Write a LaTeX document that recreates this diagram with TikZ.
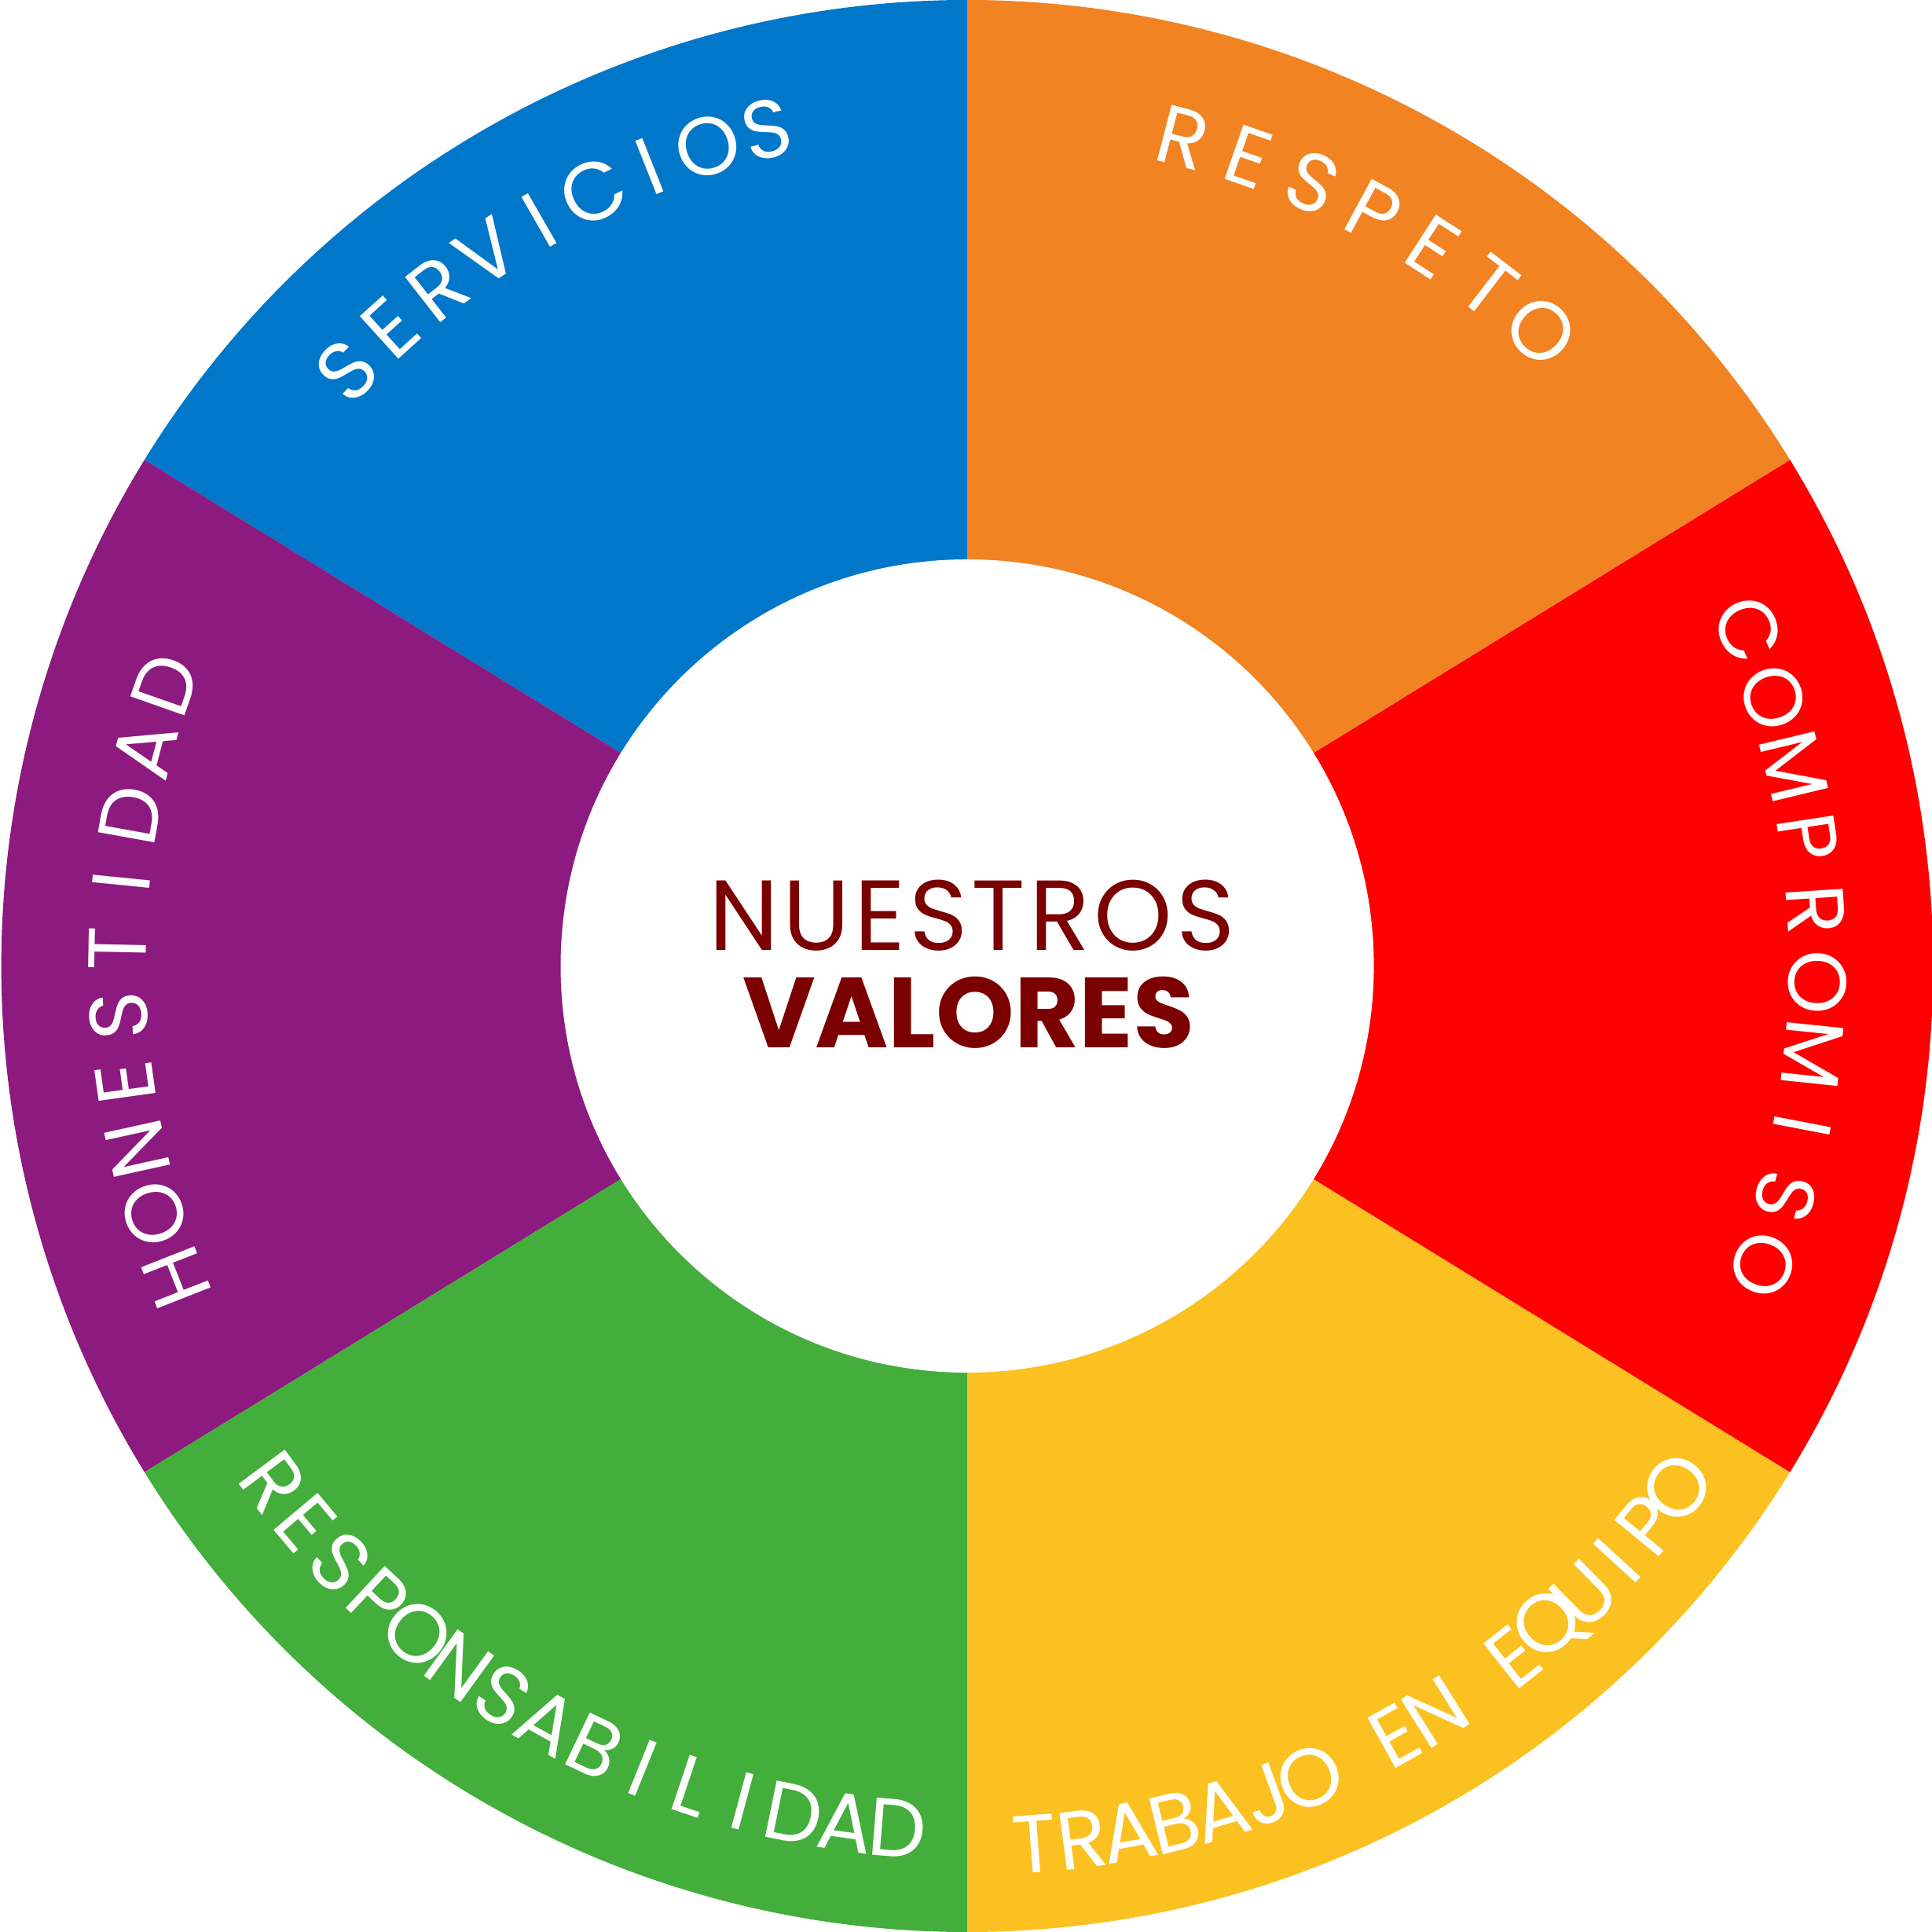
\documentclass[tikz,border=0pt]{standalone}
\usepackage{fontspec}
\setmainfont{Poppins}
\definecolor{cblue}{HTML}{0077C8}
\definecolor{corange}{HTML}{F28322}
\definecolor{cred}{HTML}{FF0000}
\definecolor{cyellow}{HTML}{FBC120}
\definecolor{cgreen}{HTML}{43AE3B}
\definecolor{cpurple}{HTML}{8D1A7E}
\definecolor{ctext}{HTML}{7B0000}
\newcommand\lfont{\fontsize{38}{38}\selectfont}
\tikzset{letter/.style={text=white,inner sep=0pt,font=\lfont}}
% #1 name, #2 dir (1 cw, -1 ccw), #3 first angle, #4 last angle, #5 radius, #6 n, #7 list
\newcommand\arctext[7]{%
 \gdef\aW{0}%
 \foreach \ch [count=\i] in {#7}{%
   \setbox0\hbox{\lfont\ch}%
   \pgfmathsetmacro\w{\the\wd0}%
   \pgfmathsetmacro\nW{\aW+\w}\xdef\aW{\nW}%
   \ifnum\i=1 \xdef\awf{\w}\fi
   \xdef\awl{\w}%
 }%
 \pgfmathsetmacro\aR{#5*0.569055}\xdef\aR{\aR}%
 \pgfmathsetmacro\aTr{(abs(#4-#3)*pi/180*\aR-\aW+\awf/2+\awl/2)/(#6-1)}\xdef\aTr{\aTr}%
 \gdef\apos{0}\gdef\aprev{0}%
 \foreach \ch [count=\i] in {#7}{%
   \setbox0\hbox{\lfont\ch}\pgfmathsetmacro\w{\the\wd0}%
   \ifnum\i>1 \pgfmathsetmacro\np{\apos+\aprev/2+\aTr+\w/2}\xdef\apos{\np}\fi
   \xdef\aprev{\w}%
   \pgfmathsetmacro\ang{#3-(#2)*\apos/\aR*180/pi}%
   \node[letter,rotate=\ang-90*(#2)] (#1\i) at (\ang:#5) {\ch};
 }}
\begin{document}
\begin{tikzpicture}[x=0.02cm,y=0.02cm]
\useasboundingbox (-785,-784) rectangle (783,784);
\fill[cblue] (0,0) -- (90:784) arc (90:148.4:784) -- cycle;
\fill[cpurple] (0,0) -- (148.4:784) arc (148.4:211.6:784) -- cycle;
\fill[cgreen] (0,0) -- (211.6:784) arc (211.6:270:784) -- cycle;
\fill[cyellow] (0,0) -- (270:784) arc (270:328.4:784) -- cycle;
\fill[cred] (0,0) -- (-31.6:784) arc (-31.6:31.6:784) -- cycle;
\fill[corange] (0,0) -- (31.6:784) arc (31.6:90:784) -- cycle;
\fill[white] (0,0) circle (330);
\arctext{s}{1}{136.2}{103.5}{698}{9}{S,E,R,V,I,C,I,O,S}
\arctext{r}{1}{75.4}{47.9}{695}{7}{R,E,S,P,E,T,O}
\arctext{c}{1}{23.3}{-20.6}{690}{10}{C,O,M,P,R,O,M,I,S,O}
\arctext{h}{1}{201.5}{160.7}{690}{10}{H,O,N,E,S,T,I,D,A,D}
\arctext{p}{-1}{216.6}{265.4}{702}{15}{R,E,S,P,O,N,S,A,B,I,L,I,D,A,D}
\arctext{t}{-1}{274.4}{323.7}{715}{17}{T,R,A,B,A,J,O,{\ },E,N,{\ },E,Q,U,I,P,O}
\node[text=ctext,font=\fontsize{46}{46}\selectfont\addfontfeatures{LetterSpace=4}] (n1) at (4,41) {NUESTROS};
\node[text=ctext,font=\fontsize{46}{46}\selectfont\bfseries] (n2) at (1,-38) {VALORES};
\end{tikzpicture}
\end{document}
